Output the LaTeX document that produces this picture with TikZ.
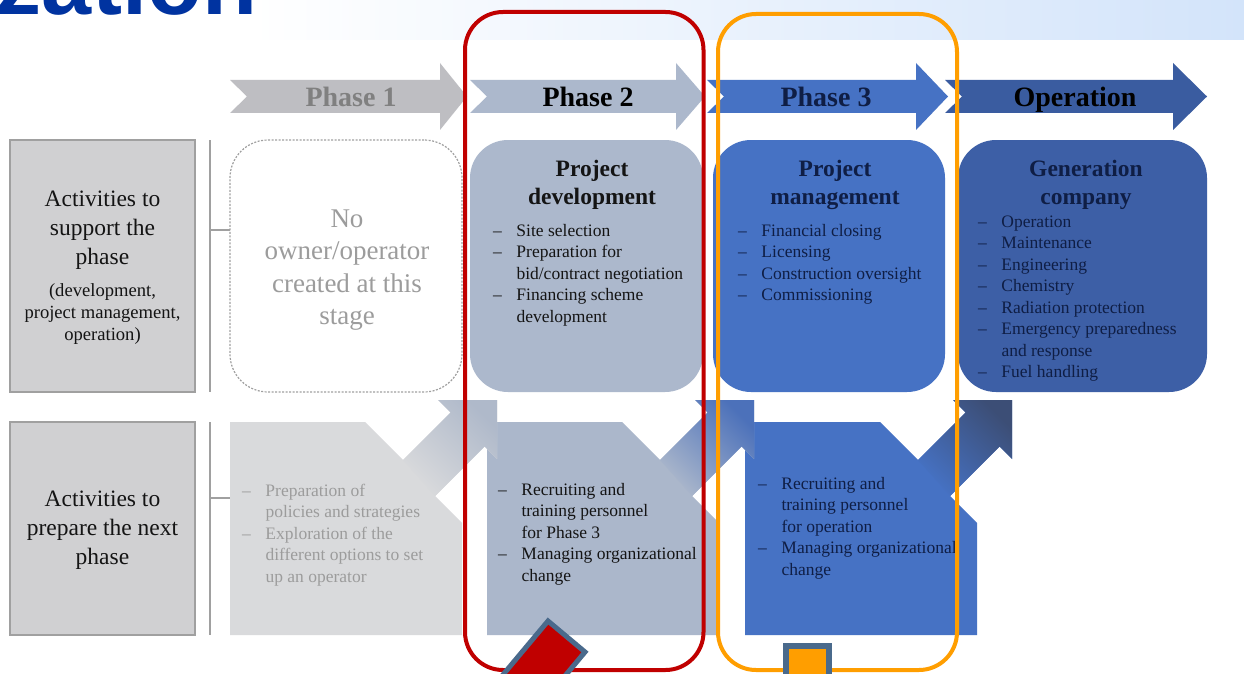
\documentclass[tikz,border=0pt]{standalone}
\usepackage{fontspec}
\setmainfont{Liberation Serif}
\newfontfamily\titlefont{Liberation Sans}

\definecolor{titleblue}{HTML}{0033A0}
\definecolor{bandblue}{HTML}{D3E4FA}
\definecolor{arrowA}{HTML}{BEBEC2}
\definecolor{arrowB}{HTML}{ACB8CC}
\definecolor{arrowC}{HTML}{4672C4}
\definecolor{arrowD}{HTML}{3A5CA0}
\definecolor{boxB}{HTML}{ACB8CC}
\definecolor{boxC}{HTML}{4672C4}
\definecolor{boxD}{HTML}{3D5FA6}
\definecolor{prepA}{HTML}{D9DADC}
\definecolor{prepAhead}{HTML}{AFB9CA}
\definecolor{prepB}{HTML}{ABB7CB}
\definecolor{prepBhead}{HTML}{4C71BA}
\definecolor{prepC}{HTML}{4672C4}
\definecolor{prepChead}{HTML}{3C4E76}
\definecolor{sidefill}{HTML}{D0D0D2}
\definecolor{sideline}{HTML}{A0A0A0}
\definecolor{fadedtext}{HTML}{9C9C9C}
\definecolor{navytext}{HTML}{0F1E45}
\definecolor{darktext}{HTML}{141414}
\definecolor{framered}{HTML}{C00000}
\definecolor{frameorange}{HTML}{FF9E00}
\definecolor{steel}{HTML}{4A6A8C}

% en dash followed by the hanging indent of a list entry
\newcommand{\dl}{\makebox[23.5pt][l]{--}}

% top row chevron arrow: left x, notch x, head base x, tip x, colour
\newcommand{\phasearrow}[5]{%
  \fill[#5] (#1,80) -- (#3,80) -- (#3,63) -- (#4,96.5) -- (#3,130)
    -- (#3,113) -- (#1,113) -- (#2,96.5) -- cycle;}

% lower row block with a diagonal arrow leaving its upper right corner
\newcommand{\prepblock}[4]{%
  \begin{scope}[xshift=#1pt]
    \fill[#2] (0,422) -- (135,422) -- (173,460) -- (220.5,412.5) -- (208,400)
      -- (267,400) -- (267,459) -- (254.5,446.5) -- (205,496) -- (232,523)
      -- (232,635) -- (0,635) -- cycle;
    \shade[bottom color=#2, top color=#3, shading angle=#4]
      (173,460) -- (220.5,412.5) -- (208,400) -- (267,400) -- (267,459)
      -- (254.5,446.5) -- (205,496) -- cycle;
  \end{scope}}

\begin{document}
\begin{tikzpicture}[x=1pt,y=-1pt,
  every node/.style={inner sep=0pt, outer sep=0pt},
  phlabel/.style={anchor=base, font=\bfseries\fontsize{28}{30}\selectfont},
  sidebox/.style={draw=sideline, line width=1.5pt, fill=sidefill,
    minimum width=185pt},
  sidetext/.style={anchor=base, text=darktext, font=\fontsize{23.5}{29}\selectfont},
  sidesmall/.style={anchor=base, text=darktext, font=\fontsize{18.6}{22}\selectfont},
  bracket/.style={draw=sideline, line width=1.3pt},
  topbox/.style={rounded corners=38pt, minimum height=252pt},
  boxtitle/.style={anchor=base, font=\bfseries\fontsize{23.5}{28.5}\selectfont},
  items/.style={anchor=base west, font=\fontsize{17.5}{21.5}\selectfont},
  frame/.style={line width=4pt, rounded corners=38pt}
]
\clip (0,0) rectangle (1244,674);

% page background and the light band along the top edge
\fill[white] (0,0) rectangle (1244,674);
\shade[left color=white, right color=bandblue] (250,0) rectangle (1244,40);
\node[anchor=base west, text=titleblue,
  font=\titlefont\bfseries\fontsize{90}{90}\selectfont] (ttl) at (-3,15) {zation};

% phase arrows
\phasearrow{230}{247}{440}{467}{arrowA}
\phasearrow{470}{487}{676}{705}{arrowB}
\phasearrow{707}{724}{916}{948}{arrowC}
\phasearrow{945}{962}{1173}{1207}{arrowD}
\node[phlabel, text=black!50] (ph1) at (351,107) {Phase 1};
\node[phlabel, text=black] (ph2) at (588,107) {Phase 2};
\node[phlabel, text=navytext] (ph3) at (826,107) {Phase 3};
\node[phlabel, text=black] (ph4) at (1075,107) {Operation};

% row labels
\node[sidebox, minimum height=252pt] (sup) at (102.5,266) {};
\node[sidetext] (suptxt) at (102.5,206)
  {\begin{tabular}[t]{@{}c@{}}Activities to\\support the\\phase\end{tabular}};
\node[sidesmall] (supsub) at (102.5,296.5)
  {\begin{tabular}[t]{@{}c@{}}(development,\\project management,\\operation)\end{tabular}};
\node[sidebox, minimum height=213pt] (prep) at (102.5,528.5) {};
\node[sidetext] (preptxt) at (102.5,506.5)
  {\begin{tabular}[t]{@{}c@{}}Activities to\\prepare the next\\phase\end{tabular}};

% brackets between the labels and the rows
\coordinate (brA1) at (210,140);
\coordinate (brA2) at (210,392);
\coordinate (brAm) at (210,230);
\coordinate (brAe) at (230,230);
\coordinate (brB1) at (210,422);
\coordinate (brB2) at (210,635);
\coordinate (brBm) at (210,498);
\coordinate (brBe) at (230,498);
\draw[bracket] (brA1) -- (brA2);
\draw[bracket] (brAm) -- (brAe);
\draw[bracket] (brB1) -- (brB2);
\draw[bracket] (brBm) -- (brBe);

% upper row: who carries the phase
\node[topbox, draw=sideline, dashed, dash pattern=on 2pt off 1.5pt, line width=1.2pt,
  minimum width=232pt] (p1top) at (346,266) {};
\node[anchor=base, text=fadedtext, font=\fontsize{27}{32.5}\selectfont] (p1txt) at (347,227)
  {\begin{tabular}[t]{@{}c@{}}No\\owner/operator\\created at this\\stage\end{tabular}};

\node[topbox, fill=boxB, minimum width=233pt] (p2top) at (586.5,266) {};
\node[boxtitle, text=darktext] (p2ttl) at (592,176)
  {\begin{tabular}[t]{@{}c@{}}Project\\development\end{tabular}};
\node[items, text=darktext] (p2lst) at (493,236)
  {\begin{tabular}[t]{@{}l@{}l@{}}
    \dl & Site selection\\
    \dl & Preparation for\\
        & bid/contract negotiation\\
    \dl & Financing scheme\\
        & development
  \end{tabular}};

\node[topbox, fill=boxC, minimum width=232pt] (p3top) at (829,266) {};
\node[boxtitle, text=navytext] (p3ttl) at (835,176)
  {\begin{tabular}[t]{@{}c@{}}Project\\management\end{tabular}};
\node[items, text=navytext] (p3lst) at (738,236)
  {\begin{tabular}[t]{@{}l@{}l@{}}
    \dl & Financial closing\\
    \dl & Licensing\\
    \dl & Construction oversight\\
    \dl & Commissioning
  \end{tabular}};

\node[topbox, fill=boxD, minimum width=249pt] (p4top) at (1082.5,266) {};
\node[boxtitle, text=navytext] (p4ttl) at (1086,176)
  {\begin{tabular}[t]{@{}c@{}}Generation\\company\end{tabular}};
\node[items, text=navytext] (p4lst) at (978,227)
  {\begin{tabular}[t]{@{}l@{}l@{}}
    \dl & Operation\\
    \dl & Maintenance\\
    \dl & Engineering\\
    \dl & Chemistry\\
    \dl & Radiation protection\\
    \dl & Emergency preparedness\\
        & and response\\
    \dl & Fuel handling
  \end{tabular}};

% lower row: preparing the next phase
\prepblock{745}{prepC}{prepChead}{-45}
\prepblock{487}{prepB}{prepBhead}{-45}
\prepblock{230}{prepA}{prepAhead}{-45}

\node[items, text=fadedtext] (p1bot) at (242,496)
  {\begin{tabular}[t]{@{}l@{}l@{}}
    \dl & Preparation of\\
        & policies and strategies\\
    \dl & Exploration of the\\
        & different options to set\\
        & up an operator
  \end{tabular}};
\node[items, text=darktext] (p2bot) at (498,495)
  {\begin{tabular}[t]{@{}l@{}l@{}}
    \dl & Recruiting and\\
        & training personnel\\
        & for Phase 3\\
    \dl & Managing organizational\\
        & change
  \end{tabular}};
\node[items, text=navytext] (p3bot) at (758,489)
  {\begin{tabular}[t]{@{}l@{}l@{}}
    \dl & Recruiting and\\
        & training personnel\\
        & for operation\\
    \dl & Managing organizational\\
        & change
  \end{tabular}};

% highlight frames around phases 2 and 3
\draw[frame, framered] (465,12) rectangle (703.5,670);
\draw[frame, frameorange] (718,14) rectangle (957,670);

% markers at the foot of the frames
\filldraw[fill=framered, draw=steel, line width=5pt]
  (548,621) -- (585,652) -- (492,763) -- (455,732) -- cycle;
\filldraw[fill=frameorange, draw=steel, line width=6pt]
  (786,646) rectangle (829,700);
\end{tikzpicture}
\end{document}
